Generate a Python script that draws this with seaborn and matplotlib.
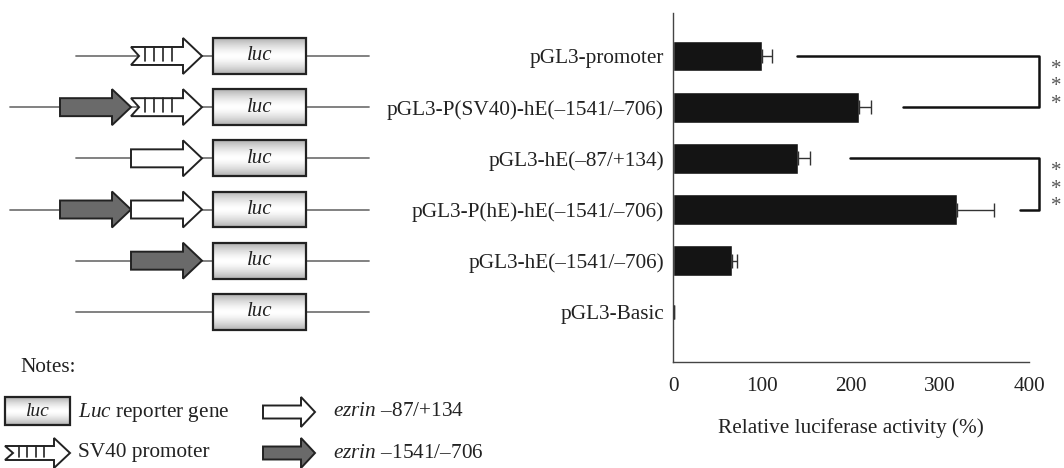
#!/usr/bin/env python3
import numpy as np
import pandas as pd
import seaborn as sns
import matplotlib.pyplot as plt
from matplotlib.patches import Polygon, Rectangle

sns.set_style("white")
plt.rcParams["font.family"] = ["Liberation Serif", "DejaVu Serif"]
plt.rcParams["mathtext.fontset"] = "custom"
plt.rcParams["mathtext.rm"] = "Liberation Serif"
plt.rcParams["mathtext.it"] = "Liberation Serif:italic"

# Data
constructs = [
    "pGL3-promoter",
    "pGL3-P(SV40)-hE(–1541/–706)",
    "pGL3-hE(–87/+134)",
    "pGL3-P(hE)-hE(–1541/–706)",
    "pGL3-hE(–1541/–706)",
    "pGL3-Basic",
]
activity = [100, 209, 141, 319, 66, 1]
activity_err = [11, 13, 13, 42, 6, 0.5]
# promoter elements upstream of luc, listed 5' -> 3'
elements = [
    ["sv40"],
    ["hE1541", "sv40"],
    ["hE87"],
    ["hE1541", "hE87"],
    ["hE1541"],
    [],
]
sig_pairs = [(0, 1), (2, 3)]
sig_labels = ["*", "*"]
sig_arm_start = [(139, 258), (199, 390)]
xticks = [0, 100, 200, 300, 400]

TXT = "#222222"
LINE = "#777777"
DARK = "#6a6a6a"
FS = 15.3

df = pd.DataFrame({"construct": constructs, "activity": activity})

fig = plt.figure(figsize=(10.64, 4.68), dpi=100)
W, H = 1064, 468
ax_bottom = 1 - 362 / H
ax_height = (362 - 13) / H
YLIM = (5.98, -0.84)
PX = 1 / 51.2  # one pixel in row units

# ---- left: construct diagrams ----
dax = fig.add_axes([0, ax_bottom, 400 / W, ax_height])
dax.set_xlim(0, 400)
dax.set_ylim(*YLIM)
dax.axis("off")


def arrow_pts(x0, yc, w, hl, b, hh, notch, ys):
    return [
        (x0, yc - b * ys), (x0 + w - hl, yc - b * ys), (x0 + w - hl, yc - hh * ys),
        (x0 + w, yc), (x0 + w - hl, yc + hh * ys), (x0 + w - hl, yc + b * ys),
        (x0, yc + b * ys), (x0 + notch, yc),
    ]


def draw_element(ax, kind, x0, yc, w, hl, b, hh, ys):
    if kind == "sv40":
        ax.add_patch(Polygon(arrow_pts(x0, yc, w, hl, b, hh, 8, ys), closed=True,
                             fc="white", ec="#222", lw=1.4, zorder=3))
        body = w - hl
        for k in range(4):
            xx = x0 + 14 + k * (body - 16) / 4
            ax.plot([xx, xx], [yc - b * ys, yc + b * 0.55 * ys], color="#222",
                    lw=1.2, zorder=4)
    else:
        fc = DARK if kind == "hE1541" else "white"
        ax.add_patch(Polygon(arrow_pts(x0, yc, w, hl, b, hh, 0, ys), closed=True,
                             fc=fc, ec="#222", lw=1.4, zorder=3))


def draw_luc(ax, x0, x1, yc, hh, ys, fs):
    grad = np.abs(np.linspace(-1, 1, 40))[:, None] ** 1.5
    grad = 1 - 0.3 * grad
    ax.imshow(grad, extent=[x0, x1, yc + hh * ys, yc - hh * ys], cmap="gray",
              vmin=0, vmax=1, aspect="auto", zorder=2)
    ax.add_patch(Rectangle((x0, yc - hh * ys), x1 - x0, 2 * hh * ys, fc="none",
                           ec="#222", lw=1.6, zorder=3))
    ax.text((x0 + x1) / 2, yc, "luc", style="italic", ha="center", va="center",
            fontsize=fs, color=TXT, zorder=4)


ARROW_W = 71
for i, elems in enumerate(elements):
    n = len(elems)
    start = min(76, 202 - ARROW_W * n - 50)
    dax.plot([start, 369], [i, i], color=LINE, lw=1.3, zorder=1)
    for j, kind in enumerate(elems):
        x0 = 202 - ARROW_W * (n - j)
        draw_element(dax, kind, x0, i, ARROW_W, 19, 9, 18, PX)
    draw_luc(dax, 213, 306, i, 18, PX, 15)
dax.set_xlim(0, 400)
dax.set_ylim(*YLIM)

# ---- right: luciferase activity ----
ax = fig.add_axes([673 / W, ax_bottom, (1029 - 673) / W, ax_height])
ax.patch.set_alpha(0)
sns.barplot(data=df, x="activity", y="construct", orient="h", color="#141414",
            width=0.6, errorbar=None, saturation=1, ax=ax)
ax.errorbar(activity, np.arange(len(constructs)),
            xerr=[np.zeros(len(activity)), activity_err], fmt="none",
            ecolor="#333", elinewidth=1, capsize=5, capthick=1, zorder=3)
ax.set_xlim(0, 400)
ax.set_ylim(*YLIM)
ax.set_xticks(xticks)
ax.set_xticklabels([str(t) for t in xticks])
ax.set_xlabel("Relative luciferase activity (%)", fontsize=FS, color=TXT,
              labelpad=16)
ax.set_ylabel("")
ax.tick_params(axis="y", direction="out", length=3.5, width=1, pad=3,
               labelsize=FS, colors="#444", labelcolor=TXT)
ax.tick_params(axis="x", direction="in", length=3, width=1, pad=11,
               labelsize=FS, colors="#444", labelcolor=TXT)
for s in ["top", "right"]:
    ax.spines[s].set_visible(False)
for s in ["left", "bottom"]:
    ax.spines[s].set_color("#444")
    ax.spines[s].set_linewidth(1)

# significance brackets
BX = 411
for (a, b), (sa, sb), lab in zip(sig_pairs, sig_arm_start, sig_labels):
    ax.plot([sa, BX, BX, sb], [a, a, b, b], color="#111", lw=1.8,
            clip_on=False, zorder=4)
    mid = (a + b) / 2
    for k in (-1, 0, 1):
        ax.text(431, mid + k * 0.34 + 0.1, lab, ha="center", va="center",
                fontsize=15, color="#555", clip_on=False)

# ---- notes ----
nax = fig.add_axes([0, 0, 560 / W, 128 / H])
nax.set_xlim(0, 560)
nax.set_ylim(468, 340)
nax.axis("off")
nax.text(20, 368, "Notes:", fontsize=FS, color=TXT, va="center", ha="left")
draw_luc(nax, 5, 70, 411, 14, 1, 14)
draw_element(nax, "sv40", 5, 453, 65, 16, 7, 15, 1)
draw_element(nax, "hE87", 263, 412, 52, 14, 6.5, 15, 1)
draw_element(nax, "hE1541", 263, 453, 52, 14, 6.5, 15, 1)
notes = [
    (78, 412, r"$\it{Luc}$ reporter gene"),
    (78, 453, "SV40 promoter"),
    (333, 412, r"$\it{ezrin}$ –87/+134"),
    (333, 453, r"$\it{ezrin}$ –1541/–706"),
]
for x, y, t in notes:
    nax.text(x, y, t, fontsize=FS, color=TXT, va="center", ha="left")
nax.set_xlim(0, 560)
nax.set_ylim(468, 340)

fig.savefig("out.png", dpi=100)
